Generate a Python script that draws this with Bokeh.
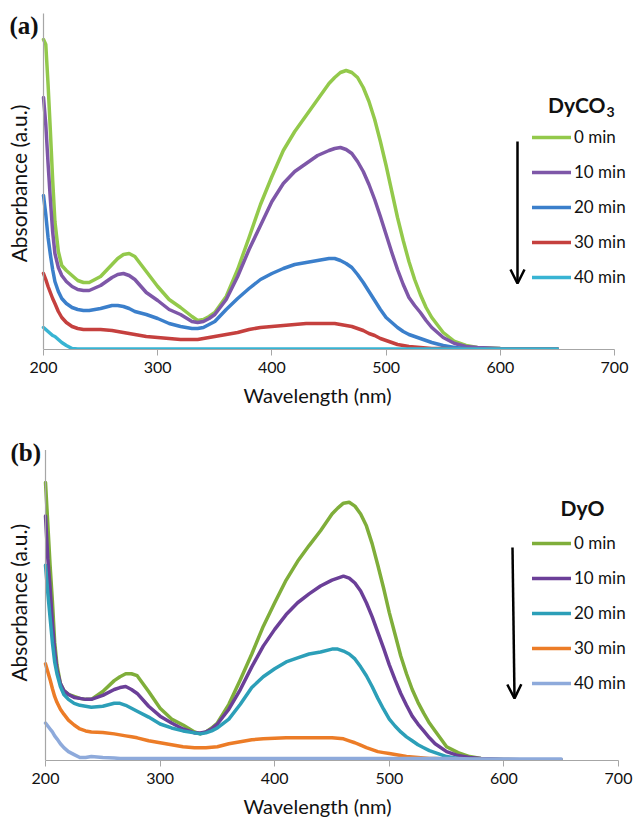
import math
from bokeh.plotting import figure
from bokeh.layouts import column
from bokeh.models import Label, Arrow, OpenHead, Legend, LegendItem, FixedTicker, Range1d
from bokeh.embed import file_html
from bokeh.resources import INLINE

# ---------------- data ----------------
wavelength = [200, 202, 204, 206, 208, 210, 213, 216, 220, 225, 230, 235, 240,
              250, 260, 265, 270, 275, 280,
              290, 300, 310, 320, 330, 335, 340, 345,
              350, 360, 370, 380, 390, 400, 410, 420, 430, 440, 450,
              455, 460, 465, 470, 475, 480, 485, 490, 495, 500,
              505, 510, 515, 520, 525, 530, 535, 540,
              550, 560, 570, 580,
              600, 625, 650]
x_ticks = [200, 300, 400, 500, 600, 700]
labels_time = ["0 min", "10 min", "20 min", "30 min", "40 min"]

# panel (a): DyCO3 (absorbance, a.u.)
a_0min = [310, 305, 265, 219, 170, 128, 98, 84, 79, 74, 69, 67, 67,
          73, 85, 91, 95, 96, 93,
          78, 63, 50, 42, 33, 29, 30, 33,
          37, 53, 80, 112, 145, 173, 199, 218, 234, 250, 266,
          272, 277, 279, 277, 272, 262, 248, 230, 208, 184,
          158, 132, 109, 88, 70, 55, 42, 32,
          17, 8, 4, 2,
          1, 0.5, 0.5]
a_10min = [252, 225, 186, 150, 118, 96, 82, 74, 68, 63, 60, 59, 59,
           64, 72, 75, 76, 74, 70,
           57, 49, 40, 35, 28, 27, 28, 31,
           35, 50, 73, 100, 124, 148, 166, 178, 186, 194, 199,
           201, 202, 200, 196, 188, 178, 165, 150, 133, 115,
           97, 80, 65, 52, 44, 37, 29, 22,
           12, 6, 3, 2,
           1, 0.5, 0.5]
a_20min = [154, 135, 112, 95, 80, 68, 58, 51, 46, 42, 40, 39, 39,
           41, 44, 44, 43, 41, 38,
           35, 31, 26, 23, 21, 21, 22, 25,
           28, 40, 51, 61, 70, 76, 81, 85, 87, 89, 91,
           91, 89, 86, 82, 75, 67, 58, 49, 40, 32,
           27, 22, 18, 15, 13, 11, 9, 7,
           4, 2, 1, 0.5,
           0.5, 0.5, 0.5]
a_30min = [76, 70, 63, 57, 51, 46, 38, 32, 27, 23, 21, 20, 20,
           20, 19, 18, 17, 16, 15,
           13, 12, 11, 10, 10, 10, 11, 12,
           13, 15, 17, 20, 22, 23, 24, 25, 26, 26, 26,
           26, 25, 24, 23, 21, 19, 16, 14, 11, 9,
           7, 5, 4, 3, 2.5, 2, 1.5, 1,
           1, 0.5, 0.5, 0.5,
           0.5, 0.5, 0.5]
a_40min = [22, 20, 18, 16, 14, 13, 10, 7, 4, 1, 0.5, 0.5, 0.5,
           0.5, 0.5, 0.5, 0.5, 0.5, 0.5,
           0.5, 0.5, 0.5, 0.5, 0.5, 0.5, 0.5, 0.5,
           0.5, 0.5, 0.5, 0.5, 0.5, 0.5, 0.5, 0.5, 0.5, 0.5, 0.5,
           0.5, 0.5, 0.5, 0.5, 0.5, 0.5, 0.5, 0.5, 0.5, 0.5,
           0.5, 0.5, 0.5, 0.5, 0.5, 0.5, 0.5, 0.5,
           0.5, 0.5, 0.5, 0.5,
           0.5, 0.5, 0.5]

# panel (b): DyO (absorbance, a.u.)
b_0min = [282, 240, 198, 162, 120, 97, 78, 71, 67, 65, 63, 62, 62,
          70, 81, 85, 88, 88, 86,
          70, 53, 42, 36, 29, 27, 29, 33,
          38, 57, 82, 108, 136, 160, 183, 202, 218, 233, 250,
          256, 261, 262, 258, 250, 238, 220, 198, 175, 150,
          128, 106, 88, 72, 59, 48, 38, 30,
          14, 8, 4, 2,
          1, 0.5, 0.5]
b_10min = [248, 205, 175, 140, 112, 92, 78, 71, 67, 64, 63, 62, 62,
           66, 72, 74, 75, 72, 68,
           55, 45, 38, 32, 28, 28, 29, 32,
           37, 52, 72, 95, 116, 133, 148, 160, 169, 177, 183,
           185, 187, 185, 180, 172, 160, 146, 130, 114, 97,
           82, 68, 56, 45, 37, 30, 23, 17,
           9, 5, 3, 2,
           1, 0.5, 0.5]
b_20min = [198, 170, 145, 120, 100, 88, 75, 67, 62, 58, 56, 55, 54,
           55, 58, 58, 56, 53, 50,
           44, 37, 33, 30, 28, 27, 28, 30,
           33, 42, 57, 74, 85, 93, 100, 104, 108, 110, 113,
           113, 111, 108, 103, 95, 86, 75, 63, 52, 42,
           35, 29, 24, 20, 16, 13, 10, 8,
           4, 2, 1.5, 1,
           0.5, 0.5, 0.5]
b_30min = [98, 90, 82, 73, 65, 59, 52, 47, 41, 36, 32, 30, 29,
           28.5, 27, 26, 25, 24, 23,
           20, 18, 16, 14, 13, 13, 13, 13.5,
           14, 17, 19, 21, 22, 22.5, 23, 23, 23, 23, 23,
           22.5, 22, 20, 18, 15.5, 13, 11, 9, 8, 7,
           6, 5, 4, 3.5, 3, 2.5, 2, 2,
           1.5, 1, 1, 1,
           0.5, 0.5, 0.5]
b_40min = [38, 35, 32, 29, 25, 22, 17, 13, 9, 6, 3, 3, 4,
           3, 2.5, 2, 2, 2, 2,
           2, 2, 2, 2, 2, 2, 2, 2,
           2, 2, 2, 2, 2, 2, 2, 2, 2, 2, 2,
           2, 2, 2, 2, 2, 2, 2, 2, 2, 2,
           2, 2, 2, 2, 2, 2, 2, 2,
           2, 2, 1.5, 1.5,
           1.5, 1.5, 1.5]

colors_a = ["#93c94b", "#7e57a8", "#3b7fcb", "#c5403e", "#38b4d3"]
colors_b = ["#7fae3a", "#6b3f98", "#2c9fb8", "#ec7c27", "#8eaadb"]

SANS = "Lato"
W = 634


def make_panel(series, colors, fig_h, ax_left, ax_right, ax_top, ax_bottom,
               panel_label, title_main, title_sub, legend_top, arrow_px, ytitle_y):
    # frame covers the full width and from the figure top down to the x axis
    scale = 500.0 / (ax_right - ax_left)          # nm per pixel
    x0 = 200 - ax_left * scale
    x1 = 200 + (W - ax_left) * scale
    frame_h = ax_bottom

    p = figure(width=W, height=fig_h, output_backend="svg", toolbar_location=None,
               x_range=Range1d(x0, x1), y_range=Range1d(0, frame_h),
               y_axis_location=None)
    p.min_border_left = 0
    p.min_border_right = 0
    p.min_border_top = 0
    p.min_border_bottom = fig_h - ax_bottom
    p.outline_line_color = None
    p.xgrid.visible = False
    p.ygrid.visible = False
    p.background_fill_color = "white"
    p.border_fill_color = "white"

    def sx(px):
        return 200 + (px - ax_left) * scale

    def sy(py):
        return ax_bottom - py

    xa = p.xaxis[0]
    xa.bounds = (200, 700)
    xa.ticker = FixedTicker(ticks=x_ticks)
    xa.axis_line_color = "#a6a6a6"
    xa.axis_line_width = 1.2
    xa.major_tick_line_color = "#a6a6a6"
    xa.major_tick_out = 6
    xa.major_tick_in = 0
    xa.minor_tick_out = 0
    xa.minor_tick_in = 0
    xa.major_label_text_font = SANS
    xa.major_label_text_font_size = "16px"
    xa.major_label_text_color = "#111111"
    xa.major_label_standoff = 6
    xa.axis_label = "Wavelength (nm)"
    xa.axis_label_text_font = SANS
    xa.axis_label_text_font_size = "20px"
    xa.axis_label_text_font_style = "normal"
    xa.axis_label_text_color = "#111111"
    xa.axis_label_standoff = 7

    # y axis line (no ticks) at 200 nm, up to the axis top
    p.add_layout(Arrow(end=None, x_start=200, y_start=0, x_end=200, y_end=sy(ax_top),
                       line_color="#a6a6a6", line_width=1.2))
    p.add_layout(Label(x=sx(18), y=sy(ytitle_y), text="Absorbance (a.u.)", angle=math.pi / 2,
                       text_align="center", text_baseline="middle", text_font=SANS,
                       text_font_size="21px", text_color="#111111"))

    items = []
    for vals, col, lab in zip(series, colors, labels_time):
        assert len(vals) == len(wavelength)
        r = p.line(wavelength, vals, line_color=col, line_width=3.5,
                   line_join="round", line_cap="round")
        items.append(LegendItem(label=lab, renderers=[r]))

    lx, ly = legend_top
    leg_h = 5 * 20 + 4 * 14
    leg = Legend(items=items, location=(lx, ax_bottom - (ly + leg_h)),
                 orientation="vertical", glyph_width=39, glyph_height=20,
                 label_height=20, label_standoff=3, spacing=14, padding=0,
                 margin=0, border_line_color=None, background_fill_alpha=0,
                 label_text_font=SANS, label_text_font_size="17px",
                 label_text_color="#111111")
    p.add_layout(leg)

    (a_x0, a_y0, a_x1, a_y1) = arrow_px
    p.add_layout(Arrow(end=OpenHead(size=14, line_width=2.5, line_color="black"),
                       x_start=sx(a_x0), y_start=sy(a_y0), x_end=sx(a_x1), y_end=sy(a_y1),
                       line_color="black", line_width=2.5))

    tx, ty = title_main[1], title_main[2]
    if title_sub:
        p.add_layout(Label(x=sx(tx), y=sy(ty), text=title_main[0], text_align="right",
                           text_baseline="middle", text_font=SANS, text_font_style="bold",
                           text_font_size="21px", text_color="#111111"))
        p.add_layout(Label(x=sx(tx + 1), y=sy(ty + 7), text=title_sub, text_align="left",
                           text_baseline="middle", text_font=SANS, text_font_style="bold",
                           text_font_size="14px", text_color="#111111"))
    else:
        p.add_layout(Label(x=sx(tx), y=sy(ty), text=title_main[0], text_align="center",
                           text_baseline="middle", text_font=SANS, text_font_style="bold",
                           text_font_size="21px", text_color="#111111"))

    p.add_layout(Label(x=sx(panel_label[1]), y=sy(panel_label[2]), text=panel_label[0],
                       text_align="left", text_baseline="middle",
                       text_font="Liberation Serif", text_font_style="bold",
                       text_font_size="25px", text_color="#111111"))
    return p


pa = make_panel([a_0min, a_10min, a_20min, a_30min, a_40min], colors_a,
                fig_h=410, ax_left=43, ax_right=614, ax_top=13, ax_bottom=349,
                panel_label=("(a)", 9, 25), title_main=("DyCO", 605, 104),
                title_sub="3", legend_top=(532, 131), arrow_px=(517, 141, 517, 283),
                ytitle_y=183)

# panel (b): pixel positions relative to its own top (figure starts at y=410)
pb = make_panel([b_0min, b_10min, b_20min, b_30min, b_40min], colors_b,
                fig_h=410, ax_left=45, ax_right=618, ax_top=40, ax_bottom=355,
                panel_label=("(b)", 10, 43), title_main=("DyO", 582, 98),
                title_sub=None, legend_top=(532, 132), arrow_px=(512, 139, 514, 292),
                ytitle_y=195)

layout = column(pa, pb, spacing=0)
open("out.html", "w").write(file_html(layout, INLINE))
